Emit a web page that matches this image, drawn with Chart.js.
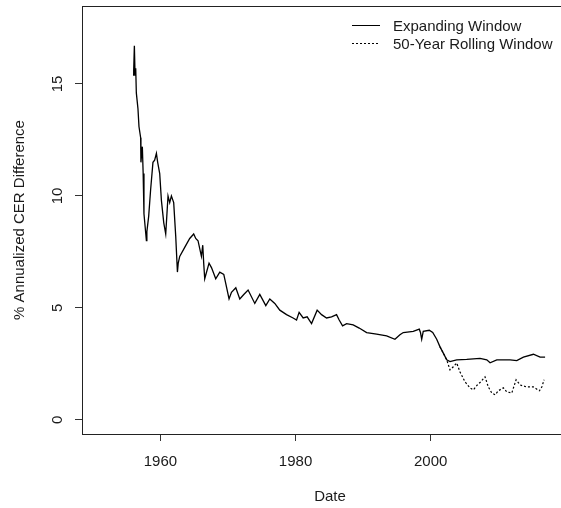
<!DOCTYPE html>
<html>
<head>
<meta charset="utf-8">
<script src="https://cdn.jsdelivr.net/npm/chart.js@4"></script>
<style>
  html, body { margin: 0; padding: 0; background: #fff; overflow: hidden; }
</style>
</head>
<body>
<canvas id="myChart" width="580" height="508"></canvas>
<script>
// expanding window series (decimal year, % CER difference)
let expDates = [1955.95, 1956.05, 1956.15, 1956.25, 1956.35, 1956.44, 1956.68, 1956.83, 1957.08, 1957.12,
  1957.33, 1957.45, 1957.57, 1957.93, 1958.0, 1958.27, 1958.56, 1958.9, 1959.15, 1959.41,
  1959.6, 1959.9, 1960.15, 1960.5, 1960.79, 1961.13, 1961.38, 1961.63, 1961.97, 1962.27,
  1962.52, 1962.64, 1962.86, 1963.6, 1964.34, 1964.93, 1965.23, 1965.57, 1966.07, 1966.27,
  1966.41, 1966.56, 1967.2, 1967.56, 1968.19, 1968.79, 1969.38, 1969.67, 1970.16, 1970.52,
  1971.16, 1971.75, 1972.34, 1972.98, 1973.97, 1974.71, 1975.6, 1976.19, 1976.93, 1977.67,
  1978.67, 1979.64, 1980.15, 1980.53, 1981.13, 1981.72, 1982.37, 1983.2, 1983.85, 1984.59,
  1985.33, 1986.07, 1986.46, 1986.96, 1987.56, 1988.53, 1989.42, 1990.52, 1992.0, 1993.48,
  1994.71, 1995.45, 1995.94, 1997.42, 1998.31, 1998.49, 1998.67, 1998.9, 1999.79, 2000.3,
  2000.89, 2001.38, 2001.87, 2002.37, 2002.86, 2003.85, 2005.33, 2007.3, 2008.3, 2008.79,
  2009.78, 2011.75, 2012.74, 2013.72, 2015.2, 2016.19, 2016.93];
let expValues = [15.4, 15.6, 16.7, 15.4, 15.7, 14.6, 13.9, 13.1, 12.6, 11.5,
  12.2, 11.0, 9.2, 8.0, 8.4, 9.1, 10.3, 11.5, 11.6, 11.9,
  11.5, 11.0, 9.8, 8.8, 8.3, 10.0, 9.7, 10.0, 9.7, 8.2,
  6.6, 7.0, 7.3, 7.7, 8.1, 8.3, 8.1, 8.0, 7.3, 7.8,
  7.0, 6.3, 7.0, 6.8, 6.3, 6.6, 6.5, 6.1, 5.4, 5.7,
  5.9, 5.4, 5.6, 5.8, 5.2, 5.6, 5.1, 5.4, 5.2, 4.9,
  4.7, 4.55, 4.46, 4.8, 4.55, 4.6, 4.3, 4.9, 4.7, 4.55,
  4.6, 4.7, 4.46, 4.2, 4.3, 4.24, 4.1, 3.9, 3.83, 3.75,
  3.6, 3.8, 3.9, 3.95, 4.05, 3.9, 3.6, 3.95, 4.0, 3.9,
  3.6, 3.26, 2.98, 2.68, 2.6, 2.68, 2.7, 2.75, 2.68, 2.55,
  2.68, 2.68, 2.65, 2.8, 2.93, 2.8, 2.8];

// 50-year rolling window (same as expanding before ~2002)
let rollDates = [2001.38, 2001.87, 2002.37, 2002.61, 2002.86, 2003.35, 2003.85, 2004.34, 2005.08, 2005.82,
  2006.31, 2006.9, 2007.41, 2008.04, 2008.53, 2009.04, 2009.53, 2010.01, 2010.76, 2011.26,
  2012.0, 2012.64, 2013.23, 2014.22, 2015.2, 2016.09, 2016.44, 2016.79];
let rollValues = [3.26, 2.98, 2.68, 2.46, 2.23, 2.37, 2.54, 2.14, 1.7, 1.43,
  1.34, 1.56, 1.7, 1.92, 1.47, 1.2, 1.12, 1.3, 1.43, 1.25,
  1.2, 1.79, 1.56, 1.47, 1.47, 1.3, 1.47, 1.79];

let xTicks = [1960, 1980, 2000];
let yTicks = [0, 5, 10, 15];
let legendLabels = ['Expanding Window', '50-Year Rolling Window'];

const FONT = 'Arial, "Liberation Sans", sans-serif';
const TXT = '#1a1a1a';

const toPoints = (xs, ys) => xs.map((x, i) => ({x: x, y: ys[i]}));

// box + rotated y labels + legend, drawn in R style
const rStyle = {
    id: 'rStyle',
    afterDraw(chart) {
        const ctx = chart.ctx;
        const a = chart.chartArea;
        const ys = chart.scales.y;
        ctx.save();
        ctx.strokeStyle = '#222';
        ctx.lineWidth = 1;
        ctx.strokeRect(Math.round(a.left) + 0.5, Math.round(a.top) + 0.5,
            Math.round(a.right - a.left), Math.round(a.bottom - a.top));

        ctx.fillStyle = TXT;
        ctx.font = '15px ' + FONT;
        ctx.textAlign = 'center';
        ctx.textBaseline = 'alphabetic';
        yTicks.forEach(v => {
            const py = ys.getPixelForValue(v);
            ctx.save();
            ctx.translate(62, py);
            ctx.rotate(-Math.PI / 2);
            ctx.fillText(String(v), 0, 0);
            ctx.restore();
        });

        // legend
        ctx.textAlign = 'left';
        ctx.textBaseline = 'middle';
        ctx.strokeStyle = '#000';
        legendLabels.forEach((lab, i) => {
            const ly = 25.5 + i * 18;
            ctx.beginPath();
            ctx.setLineDash(i === 0 ? [] : [2, 2]);
            ctx.moveTo(352, ly);
            ctx.lineTo(380, ly);
            ctx.stroke();
            ctx.fillText(lab, 393, ly + 1);
        });
        ctx.restore();
    }
};

const ctx = document.getElementById('myChart').getContext('2d');
const myChart = new Chart(ctx, {
    type: 'line',
    data: {
        datasets: [{
            label: legendLabels[0],
            data: toPoints(expDates, expValues),
            borderColor: '#000',
            borderWidth: 1.3,
            pointRadius: 0,
            tension: 0
        }, {
            label: legendLabels[1],
            data: toPoints(rollDates, rollValues),
            borderColor: '#000',
            borderWidth: 1.2,
            borderDash: [2, 2],
            pointRadius: 0,
            tension: 0
        }]
    },
    options: {
        responsive: false,
        animation: false,
        layout: { padding: { top: 6, right: 2, left: 0, bottom: 0 } },
        plugins: {
            legend: { display: false },
            tooltip: { enabled: false }
        },
        scales: {
            x: {
                type: 'linear',
                min: 1948.4,
                max: 2021.8,
                afterBuildTicks: s => { s.ticks = xTicks.map(v => ({value: v})); },
                afterFit: s => { s.height = 74; },
                grid: { drawOnChartArea: false, drawTicks: true, tickLength: 7, color: '#333' },
                border: { display: false },
                ticks: {
                    color: TXT,
                    padding: 12,
                    maxRotation: 0,
                    font: { family: FONT, size: 15 },
                    callback: v => String(v)
                },
                title: {
                    display: true,
                    text: 'Date',
                    color: TXT,
                    font: { family: FONT, size: 15 },
                    padding: { top: 0, bottom: 2 }
                }
            },
            y: {
                min: -0.63,
                max: 18.48,
                afterBuildTicks: s => { s.ticks = yTicks.map(v => ({value: v})); },
                afterFit: s => { s.width = 82; },
                grid: { drawOnChartArea: false, drawTicks: true, tickLength: 7, color: '#333' },
                border: { display: false },
                ticks: { display: false },
                title: {
                    display: true,
                    text: '% Annualized CER Difference',
                    color: TXT,
                    font: { family: FONT, size: 15 },
                    padding: { top: 11, bottom: 0 }
                }
            }
        }
    },
    plugins: [rStyle]
});
</script>
</body>
</html>
